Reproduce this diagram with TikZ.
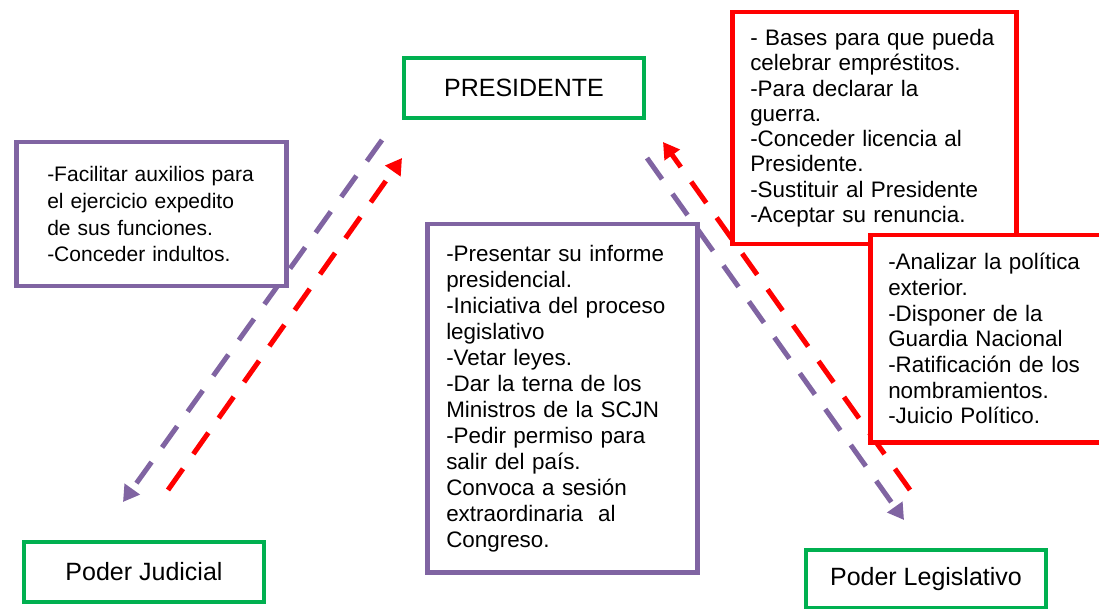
\documentclass[tikz,border=0pt]{standalone}
\usepackage{fontspec}
\setmainfont{Liberation Sans}
\usetikzlibrary{arrows.meta}
\definecolor{verde}{RGB}{0,176,80}
\definecolor{morado}{RGB}{128,100,162}
\definecolor{rojo}{RGB}{255,0,0}

\begin{document}
\begin{tikzpicture}[x=1pt, y=-1pt, font=\fontsize{22.4}{26}\selectfont,
    poder/.style = {draw=verde, line width=4.5pt, minimum width=240pt, minimum height=60pt, inner sep=0pt, font=\fontsize{25}{30}\selectfont},
    caja/.style = {draw=#1, line width=4.5pt, fill=white, anchor=north west, align=left},
    flecha/.style = {draw=#1, line width=5pt, dash pattern=on 26pt off 18pt, -{Triangle[length=16pt,width=18pt]}}]

    \useasboundingbox (0,0) rectangle (1099,609);

    % Flechas entre el Presidente y el Poder Judicial
    \coordinate (j1) at (382,140);
    \coordinate (j2) at (123,502);
    \coordinate (j3) at (168,490);
    \coordinate (j4) at (402,158);
    \draw[flecha=morado] (j1) -- (j2);
    \draw[flecha=rojo] (j3) -- (j4);

    % Flechas entre el Presidente y el Poder Legislativo
    \coordinate (l1) at (647,158);
    \coordinate (l2) at (904,520);
    \coordinate (l3) at (910,490);
    \coordinate (l4) at (663,142);
    \draw[flecha=morado] (l1) -- (l2);
    \draw[flecha=rojo] (l3) -- (l4);

    % Poderes
    \node[poder] (P) at (524,88) {PRESIDENTE};
    \node[poder] (J) at (144,572) {Poder Judicial};
    \node[poder, minimum height=58pt] (L) at (926,579) {Poder Legislativo};

    % Facultades
    \node[caja=morado, minimum width=270pt, minimum height=144pt, inner xsep=31pt, text width=208pt,
          font=\fontsize{21}{26.6}\selectfont] (auxilios) at (14,140)
        {-Facilitar auxilios para\\el ejercicio expedito\\de sus funciones.\\-Conceder indultos.};
    \node[caja=morado, minimum width=270pt, minimum height=348pt, inner xsep=19pt, text width=232pt] (informe) at (425,222)
        {-Presentar su informe\\presidencial.\\-Iniciativa del proceso\\legislativo\\-Vetar leyes.\\-Dar la terna de los\\Ministros de la SCJN\\-Pedir permiso para\\salir del país.\\Convoca a sesión\\extraordinaria~ al\\Congreso.};
    \node[caja=rojo, minimum width=284pt, minimum height=232pt, inner xsep=18pt, text width=248pt,
          font=\fontsize{22.4}{25.3}\selectfont] (bases) at (730,10)
        {- Bases para que pueda\\celebrar empréstitos.\\-Para declarar la\\guerra.\\-Conceder licencia al\\Presidente.\\-Sustituir al Presidente\\-Aceptar su renuncia.};
    \node[caja=rojo, minimum width=240pt, minimum height=207pt, inner xsep=18pt, text width=204pt,
          font=\fontsize{22.4}{25.7}\selectfont] (exterior) at (868,233)
        {-Analizar la política\\exterior.\\-Disponer de la\\Guardia Nacional\\-Ratificación de los\\nombramientos.\\-Juicio Político.};

\end{tikzpicture}
\end{document}
